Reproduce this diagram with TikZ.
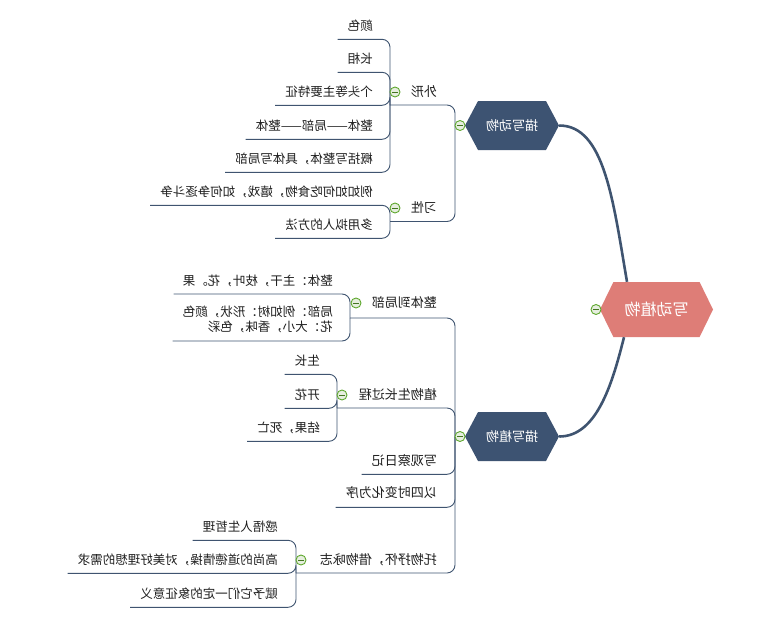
\documentclass[tikz,border=0pt]{standalone}
\usepackage{fontspec}
\usepackage{graphicx}
\usetikzlibrary{shapes.symbols,calc}
\newfontfamily\cjk{Noto Sans CJK SC}
\definecolor{mainc}{HTML}{3D5372}
\definecolor{rootc}{HTML}{DE7D77}
\definecolor{linec}{HTML}{3F5470}
\definecolor{txtc}{HTML}{1E1E1E}
\definecolor{togc}{HTML}{5FA82E}
\definecolor{togf}{HTML}{E6EEDF}
\newcommand{\rf}[1]{\reflectbox{#1}}
\begin{document}
\begin{tikzpicture}[x=1pt,y=-1pt,
  leaf/.style={font={\cjk\fontsize{12.5}{15}\selectfont}, text=txtc, inner sep=0pt, anchor=east},
  topic/.style={font={\cjk\fontsize{13}{15}\selectfont}, text=txtc, inner sep=0pt, anchor=east},
  br/.style={draw=linec, line width=0.9pt, rounded corners=8pt},
  trunk/.style={draw=linec, line width=2.6pt},
  mainnode/.style={signal, signal to=west and east, signal pointer angle=124, fill=mainc, minimum width=94pt, minimum height=49pt, inner sep=0pt, text=white, font={\cjk\fontsize{13}{15}\selectfont}},
  rootnode/.style={mainnode, fill=rootc, signal pointer angle=128, minimum width=113pt, minimum height=55pt, font={\cjk\fontsize{16}{18}\selectfont}},
  tog/.style={circle, draw=togc, line width=0.9pt, fill=togf, minimum size=10pt, inner sep=0pt, path picture={\draw[togc!70!black, line width=0.9pt] ([xshift=-2.8pt]path picture bounding box.center) -- ([xshift=2.8pt]path picture bounding box.center);}}
]
\useasboundingbox (0,0) rectangle (760,624);

% hexagon nodes
\node[rootnode] (root) at (656.5,309.5) {\rf{写动植物}};
\node[mainnode] (ani) at (512,125.5) {\rf{描写动物}};
\node[mainnode] (pla) at (512,436.5) {\rf{描写植物}};

% animal topics
\node[topic] (p1) at (437,92) {\rf{外形}};
\node[topic] (p2) at (437,208) {\rf{习性}};
\node[leaf] (a1) at (373,26) {\rf{颜色}};
\node[leaf] (a2) at (373,59) {\rf{长相}};
\node[leaf] (a3) at (373,92) {\rf{个头等主要特征}};
\node[leaf] (a4) at (373,126) {\rf{整体——局部——整体}};
\node[leaf] (a5) at (373,159) {\rf{概括写整体，具体写局部}};
\node[leaf] (a6) at (373,192) {\rf{例如如何吃食物，嬉戏，如何争逐斗争}};
\node[leaf] (a7) at (373,225) {\rf{多用拟人的方法}};

% plant topics
\node[topic] (p3) at (437,303) {\rf{整体到局部}};
\node[topic] (p4) at (437,395) {\rf{植物生长过程}};
\node[topic] (p5) at (437,461) {\rf{写观察日记}};
\node[topic] (p6) at (437,493) {\rf{以四时变化为序}};
\node[topic] (p7) at (437,560) {\rf{托物抒怀，借物咏志}};
\node[leaf] (b1) at (333,281) {\rf{整体：主干，枝叶，花。果}};
\node[leaf] (b2) at (333,320.5) {\rf{\begin{tabular}{@{}l@{}}局部：例如树：形状，颜色\\花：大小，香味，色彩\end{tabular}}};
\node[leaf] (c1) at (320,361) {\rf{生长}};
\node[leaf] (c2) at (320,395) {\rf{开花}};
\node[leaf] (c3) at (320,428) {\rf{结果，死亡}};
\node[leaf] (d1) at (278,527) {\rf{感悟人生哲理}};
\node[leaf] (d2) at (278,560) {\rf{高尚的道德情操，对美好理想的需求}};
\node[leaf] (d3) at (278,594) {\rf{赋予它们一定的象征意义}};

% junction coordinates
\coordinate (j1) at (455,126);
\coordinate (j2) at (455,437);
\coordinate (m1) at (390,105);
\coordinate (m2) at (390,221.5);
\coordinate (m3) at (350,318);
\coordinate (m4) at (337,408);
\coordinate (m7) at (296,573);

% trunk curves
\draw[trunk] ([xshift=-29.5pt]root.north) .. controls +(-14,-82) and +(45,0) .. (ani.east);
\draw[trunk] ([xshift=-32.5pt]root.south) .. controls +(-12,48) and +(37,0) .. (pla.east);

% animal connectors
\draw[br] (m1) -| (j1);
\draw[br] (m2) -| (j1);
\foreach \n in {a1,a2,a3,a4,a5} \draw[br] ([shift={(-10,13.3)}]\n.west) -| (m1);
\foreach \n in {a6,a7} \draw[br] ([shift={(-10,13.3)}]\n.west) -| (m2);

% plant connectors
\draw[br] (m3) -| (j2);
\draw[br] (m4) -| (j2);
\draw[br] ([shift={(-10,13.3)}]p5.west) -| (j2);
\draw[br] ([shift={(-10,14.3)}]p6.west) -| (j2);
\draw[br] (m7) -| (j2);
\draw[br] ([shift={(-9,13)}]b1.west) -| (m3);
\draw[br] ([shift={(-10,20.5)}]b2.west) -| (m3);
\foreach \n in {c1,c2,c3} \draw[br] ([shift={(-10,13.3)}]\n.west) -| (m4);
\foreach \n in {d1,d2,d3} \draw[br] ([shift={(-10,13.3)}]\n.west) -| (m7);

% toggles
\node[tog] (t0) at (596,309.5) {};
\node[tog] (t1) at (460,125.5) {};
\node[tog] (t2) at (460,436.5) {};
\node[tog] (t3) at (395,92) {};
\node[tog] (t4) at (395,208) {};
\node[tog] (t5) at (356,303) {};
\node[tog] (t6) at (342,395) {};
\node[tog] (t7) at (301,560) {};
\end{tikzpicture}
\end{document}
